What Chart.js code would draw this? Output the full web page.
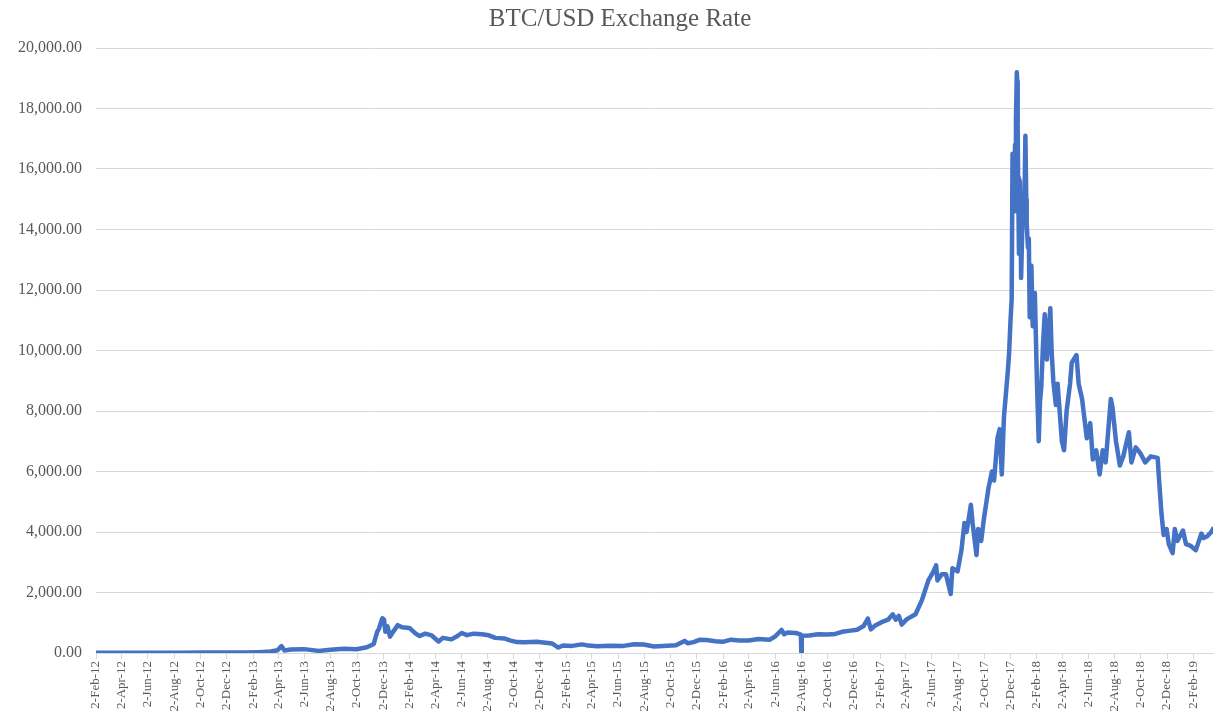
<!DOCTYPE html>
<html>
<head>
<meta charset="utf-8">
<title>BTC/USD Exchange Rate</title>
<script src="https://cdn.jsdelivr.net/npm/chart.js@4/dist/chart.umd.min.js"></script>
<style>
  html, body { margin: 0; padding: 0; background: #fff; }
  #chart { display: block; }
</style>
</head>
<body>
<canvas id="chart" width="1214" height="717"></canvas>
<script>
const dates = [
  "2012-02-02","2012-04-01","2012-06-01","2012-08-15","2012-10-01","2012-12-01",
  "2013-01-15","2013-02-15","2013-03-15","2013-03-31","2013-04-09","2013-04-16","2013-05-01","2013-06-01",
  "2013-07-05","2013-08-01","2013-09-01","2013-10-01","2013-10-25","2013-11-10","2013-11-18","2013-11-22",
  "2013-11-30","2013-12-04","2013-12-07","2013-12-12","2013-12-18","2013-12-25",
  "2014-01-05","2014-01-15","2014-02-01","2014-02-15","2014-02-25","2014-03-10","2014-03-25","2014-04-10",
  "2014-04-20","2014-05-10","2014-05-25","2014-06-03","2014-06-15","2014-07-01","2014-07-20","2014-08-05",
  "2014-08-20","2014-09-10","2014-09-25","2014-10-10","2014-10-25","2014-11-10","2014-11-25","2014-12-10","2014-12-30",
  "2015-01-14","2015-01-25","2015-02-15","2015-03-10","2015-03-25","2015-04-15","2015-05-15","2015-06-15",
  "2015-07-10","2015-08-01","2015-08-25","2015-09-15","2015-10-15","2015-11-04","2015-11-12","2015-11-25",
  "2015-12-10","2015-12-25",
  "2016-01-15","2016-02-01","2016-02-20","2016-03-10","2016-04-01","2016-04-25","2016-05-20","2016-06-01",
  "2016-06-17","2016-06-23","2016-07-01","2016-07-20","2016-08-01","2016-08-02","2016-08-03","2016-08-20",
  "2016-09-10","2016-10-01","2016-10-20","2016-11-05","2016-11-25","2016-12-10","2016-12-25",
  "2017-01-04","2017-01-11","2017-01-20","2017-02-05","2017-02-20","2017-03-03","2017-03-10","2017-03-17",
  "2017-03-24","2017-04-05","2017-04-25","2017-05-10","2017-05-25","2017-06-06","2017-06-12","2017-06-15",
  "2017-06-25","2017-07-05","2017-07-16","2017-07-20","2017-08-01","2017-08-10","2017-08-17","2017-08-22",
  "2017-09-01","2017-09-05","2017-09-14","2017-09-18","2017-09-25","2017-10-01","2017-10-12","2017-10-20",
  "2017-10-25","2017-11-02","2017-11-07","2017-11-12","2017-11-17","2017-11-26","2017-11-29","2017-12-02",
  "2017-12-05","2017-12-07","2017-12-08","2017-12-10","2017-12-11","2017-12-13","2017-12-15","2017-12-17",
  "2017-12-18","2017-12-19","2017-12-20","2017-12-22","2017-12-24","2017-12-26","2017-12-27","2017-12-30",
  "2018-01-01","2018-01-04","2018-01-06","2018-01-08","2018-01-09","2018-01-12","2018-01-14","2018-01-16",
  "2018-01-18","2018-01-20","2018-01-23","2018-01-28","2018-02-02","2018-02-06","2018-02-09","2018-02-12",
  "2018-02-16","2018-02-20","2018-02-25","2018-03-05","2018-03-08","2018-03-12",
  "2018-03-18","2018-03-22","2018-04-01","2018-04-06","2018-04-12","2018-04-20","2018-04-24","2018-05-05",
  "2018-05-10","2018-05-18","2018-05-29","2018-06-06","2018-06-12","2018-06-20","2018-06-28","2018-07-05",
  "2018-07-12","2018-07-24","2018-07-28","2018-08-05","2018-08-14","2018-08-22","2018-09-04","2018-09-10",
  "2018-09-20","2018-10-01","2018-10-12","2018-10-25","2018-11-10","2018-11-14","2018-11-19","2018-11-24",
  "2018-12-01","2018-12-06","2018-12-15","2018-12-20","2018-12-26",
  "2019-01-08","2019-01-15","2019-01-25","2019-02-07","2019-02-20","2019-02-25","2019-03-05","2019-03-15","2019-03-19"
];
const rates = [
  6,5,5.3,12,12.4,12.6,
  14,27,47,93,230,85,116,128,
  70,105,138,125,190,300,700,800,
  1150,1100,700,880,540,700,
  920,850,830,650,560,640,580,380,
  500,450,570,660,590,640,620,585,
  500,480,410,360,355,365,375,350,315,
  180,250,235,285,245,225,237,235,
  290,280,215,230,255,400,320,360,
  440,430,
  390,370,440,415,415,460,440,535,
  760,620,680,665,605,0,570,580,
  620,615,630,700,740,770,890,
  1140,780,900,1020,1100,1280,1100,1230,
  940,1120,1280,1750,2400,2700,2900,2400,
  2600,2600,1950,2800,2700,3400,4300,4000,
  4900,4300,3240,4100,3700,4400,5450,6000,
  5700,7100,7400,5900,7800,9300,9900,10900,
  11700,16500,14800,16000,14600,16800,17600,19200,
  18900,17500,15700,13200,15600,14000,12400,14200,
  14500,15200,17100,15000,14200,13400,13700,11100,
  11500,12800,10800,11900,8900,7000,8300,8800,
  10200,11200,9700,11400,10000,9000,
  8200,8900,7000,6700,8000,8900,9600,9850,
  8900,8400,7100,7600,6400,6700,5900,6700,
  6300,8400,8100,7000,6200,6500,7300,6300,
  6800,6600,6300,6500,6450,5600,4600,3900,
  4100,3600,3300,4100,3700,
  4050,3600,3550,3400,3950,3800,3850,4000,4100
];

const tickLabels = [
  "2-Feb-12","2-Apr-12","2-Jun-12","2-Aug-12","2-Oct-12","2-Dec-12",
  "2-Feb-13","2-Apr-13","2-Jun-13","2-Aug-13","2-Oct-13","2-Dec-13",
  "2-Feb-14","2-Apr-14","2-Jun-14","2-Aug-14","2-Oct-14","2-Dec-14",
  "2-Feb-15","2-Apr-15","2-Jun-15","2-Aug-15","2-Oct-15","2-Dec-15",
  "2-Feb-16","2-Apr-16","2-Jun-16","2-Aug-16","2-Oct-16","2-Dec-16",
  "2-Feb-17","2-Apr-17","2-Jun-17","2-Aug-17","2-Oct-17","2-Dec-17",
  "2-Feb-18","2-Apr-18","2-Jun-18","2-Aug-18","2-Oct-18","2-Dec-18",
  "2-Feb-19"
];
const yTicks = [0, 2000, 4000, 6000, 8000, 10000, 12000, 14000, 16000, 18000, 20000];
const chartTitle = "BTC/USD Exchange Rate";

// --- helpers ---
const MONTHS = ["Jan","Feb","Mar","Apr","May","Jun","Jul","Aug","Sep","Oct","Nov","Dec"];
const START = Date.UTC(2012, 1, 2);
const DAY = 86400000;

function isoToDay(s) {
  const p = s.split("-");
  return Math.round((Date.UTC(+p[0], +p[1] - 1, +p[2]) - START) / DAY);
}
function labelToDay(s) {
  const p = s.split("-");
  return Math.round((Date.UTC(2000 + +p[2], MONTHS.indexOf(p[1]), +p[0]) - START) / DAY);
}

const points = dates.map((d, i) => ({ x: isoToDay(d), y: rates[i] }));
const tickDays = tickLabels.map(labelToDay);

const GRID = "#d9d9d9";
const TEXT = "#595959";
const SERIF = "'Liberation Serif', 'Times New Roman', serif";

// title sits a little right of the canvas centre, like the original
const titlePlugin = {
  id: "topTitle",
  afterDraw(chart) {
    const ctx = chart.ctx;
    ctx.save();
    ctx.font = "25px " + SERIF;
    ctx.fillStyle = TEXT;
    ctx.textAlign = "center";
    ctx.textBaseline = "middle";
    ctx.fillText(chartTitle, 620, 19);
    ctx.restore();
  }
};

new Chart(document.getElementById("chart"), {
  type: "line",
  data: {
    datasets: [{
      data: points,
      borderColor: "#4472C4",
      borderWidth: 4.5,
      borderJoinStyle: "round",
      borderCapStyle: "round",
      pointRadius: 0,
      tension: 0,
      fill: false
    }]
  },
  options: {
    responsive: false,
    animation: false,
    devicePixelRatio: 1,
    layout: { padding: { left: 0, right: 1, top: 48, bottom: 0 } },
    plugins: {
      legend: { display: false },
      tooltip: { enabled: false },
      title: { display: false }
    },
    scales: {
      x: {
        type: "linear",
        min: 0,
        max: points[points.length - 1].x,
        afterBuildTicks: s => { s.ticks = tickDays.map(v => ({ value: v })); },
        afterFit: s => { s.height = 64; },
        ticks: {
          autoSkip: false,
          maxRotation: 90,
          minRotation: 90,
          padding: 2,
          color: TEXT,
          font: { family: SERIF, size: 13 },
          callback: (v, i) => tickLabels[i]
        },
        grid: { drawOnChartArea: false, drawTicks: true, tickLength: 6, color: GRID },
        border: { display: true, color: GRID }
      },
      y: {
        min: 0,
        max: 20000,
        afterBuildTicks: s => { s.ticks = yTicks.map(v => ({ value: v })); },
        afterFit: s => { s.width = 96; },
        ticks: {
          padding: 14,
          color: TEXT,
          font: { family: SERIF, size: 16 },
          callback: v => v.toLocaleString("en-US", { minimumFractionDigits: 2, maximumFractionDigits: 2 })
        },
        grid: { color: GRID, drawTicks: false },
        border: { display: false }
      }
    }
  },
  plugins: [titlePlugin]
});
</script>
</body>
</html>
